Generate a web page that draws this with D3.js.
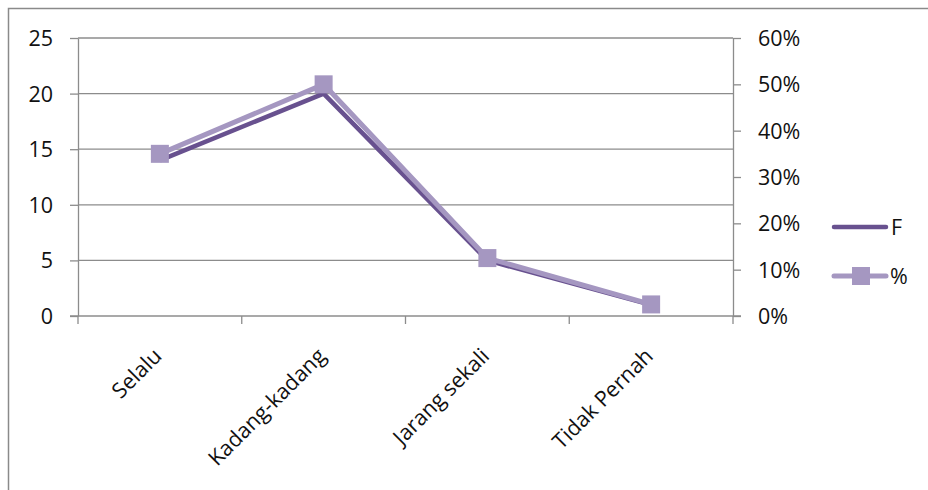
<!DOCTYPE html>
<html><head><meta charset="utf-8">
<script src="https://cdn.jsdelivr.net/npm/d3@7/dist/d3.min.js"></script>
<style>html,body{margin:0;padding:0;background:#fff;}svg{display:block;}</style>
</head><body>
<script>
const categories = ["Selalu", "Kadang-kadang", "Jarang sekali", "Tidak Pernah"];
const fValues = [14, 20, 5, 1];
const pctValues = [0.35, 0.50, 0.125, 0.025];
const leftTicks = [0, 5, 10, 15, 20, 25];
const rightTicks = [0, 0.1, 0.2, 0.3, 0.4, 0.5, 0.6];
const seriesNames = ["F", "%"];

const W = 928, H = 490;
const m = {left: 78, right: 733, top: 38, bottom: 316};
const colF = "#68518F", colP = "#A597C1", gridCol = "#8c8c8c";
const font = "'Open Sans', sans-serif";
const fs = 21.5;

const svg = d3.select("body").append("svg").attr("width", W).attr("height", H);

svg.append("rect").attr("x", 8.5).attr("y", 8.5).attr("width", W + 10).attr("height", H + 10)
  .attr("fill", "none").attr("stroke", "#8a8a8a").attr("stroke-width", 1.5);

const x = d3.scaleBand().domain(categories).range([m.left, m.right]);
const yL = d3.scaleLinear().domain([0, 25]).range([m.bottom, m.top]);
const yR = d3.scaleLinear().domain([0, 0.6]).range([m.bottom, m.top]);

svg.append("g").selectAll("line").data(leftTicks.filter(d => d > 0)).join("line")
  .attr("x1", m.left).attr("x2", m.right)
  .attr("y1", d => yL(d)).attr("y2", d => yL(d))
  .attr("stroke", gridCol).attr("stroke-width", 1.3);

function styleAxis(g) {
  g.selectAll("path").attr("stroke", gridCol).attr("stroke-width", 1.3);
  g.selectAll(".tick line").attr("stroke", gridCol).attr("stroke-width", 1.3);
  g.selectAll("text").attr("font-family", font).attr("font-size", fs).attr("fill", "#111");
}

const gl = svg.append("g").attr("transform", `translate(${m.left},0)`)
  .call(d3.axisLeft(yL).tickValues(leftTicks).tickSize(8).tickSizeOuter(0).tickPadding(17));
styleAxis(gl);
gl.selectAll("text").attr("dy", "0.35em");

const gr = svg.append("g").attr("transform", `translate(${m.right},0)`)
  .call(d3.axisRight(yR).tickValues(rightTicks).tickSize(8).tickSizeOuter(0).tickPadding(17).tickFormat(d3.format(".0%")));
styleAxis(gr);
gr.selectAll("text").attr("dy", "0.35em");

svg.append("line").attr("x1", m.left - 8).attr("x2", m.right + 8).attr("y1", m.bottom).attr("y2", m.bottom)
  .attr("stroke", gridCol).attr("stroke-width", 1.3);
const xTicks = categories.map(c => x(c)).concat([x.range()[1]]);
svg.append("g").selectAll("line").data(xTicks).join("line")
  .attr("x1", d => d).attr("x2", d => d).attr("y1", m.bottom).attr("y2", m.bottom + 8)
  .attr("stroke", gridCol).attr("stroke-width", 1.3);

svg.append("g").selectAll("text").data(categories).join("text")
  .attr("transform", d => `translate(${x(d) + x.bandwidth() / 2 - 2},${m.bottom + 36}) rotate(-45)`)
  .attr("text-anchor", "end").attr("dy", "0.35em")
  .attr("font-family", font).attr("font-size", fs).attr("fill", "#111")
  .text(d => d);

const cx = d => x(d) + x.bandwidth() / 2;

svg.append("path").datum(fValues)
  .attr("d", d3.line().x((d, i) => cx(categories[i])).y(d => yL(d)))
  .attr("fill", "none").attr("stroke", colF).attr("stroke-width", 4.5).attr("stroke-linejoin", "round");

svg.append("path").datum(pctValues)
  .attr("d", d3.line().x((d, i) => cx(categories[i])).y(d => yR(d)))
  .attr("fill", "none").attr("stroke", colP).attr("stroke-width", 5).attr("stroke-linejoin", "round");

const ms = 18;
svg.append("g").selectAll("rect").data(pctValues).join("rect")
  .attr("x", (d, i) => cx(categories[i]) - ms / 2).attr("y", d => yR(d) - ms / 2)
  .attr("width", ms).attr("height", ms).attr("fill", colP);

const lg = svg.append("g");
lg.append("line").attr("x1", 834).attr("x2", 886).attr("y1", 227).attr("y2", 227)
  .attr("stroke", colF).attr("stroke-width", 4.5).attr("stroke-linecap", "round");
lg.append("text").attr("x", 891).attr("y", 227).attr("dy", "0.35em")
  .attr("font-family", font).attr("font-size", fs).attr("fill", "#111").text(seriesNames[0]);
lg.append("line").attr("x1", 834).attr("x2", 886).attr("y1", 276).attr("y2", 276)
  .attr("stroke", colP).attr("stroke-width", 5).attr("stroke-linecap", "round");
lg.append("rect").attr("x", 852).attr("y", 267).attr("width", ms).attr("height", ms).attr("fill", colP);
lg.append("text").attr("x", 890).attr("y", 276).attr("dy", "0.35em")
  .attr("font-family", font).attr("font-size", fs).attr("fill", "#111").text(seriesNames[1]);
</script>
</body></html>
